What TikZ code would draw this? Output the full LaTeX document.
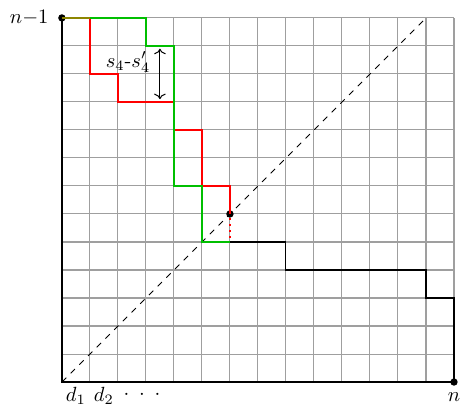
\documentclass[tikz,border=0pt]{standalone}
\usepackage{amsmath, amssymb}
\usetikzlibrary{arrows.meta, positioning}

\begin{document}
\begin{tikzpicture}[x=0.48cm, y=0.48cm,
  grid/.style={gray!75, line width=0.5pt},
  axis/.style={black, line width=0.6pt},
  diag/.style={black, dashed, line width=0.4pt},
  redpath/.style={red, line width=0.9pt},
  greenpath/.style={green!75!black, line width=0.9pt},
  tail/.style={black, line width=0.5pt},
  dot/.style={circle, fill, inner sep=0pt, minimum size=3.6pt}
]
  \useasboundingbox (-2.21,-0.82) rectangle (14.25,13.64);

  \foreach \i in {1,...,14} \draw[grid] (\i,0) -- (\i,13);
  \foreach \j in {1,...,13} \draw[grid] (0,\j) -- (14,\j);
  \draw[axis] (0,13) -- (0,0) -- (14,0);
  \draw[diag] (0,0) -- (13,13);

  \node[dot] (top) at (0,13) {};
  \node[dot] (mid) at (6,6)  {};
  \node[dot] (end) at (14,0) {};
  \coordinate (meet) at (6,5);

  % the two paths, green on top of red
  \draw[redpath] (1,13) -- (1,11) -- (2,11) -- (2,10) -- (4,10) -- (4,9)
    -- (5,9) -- (5,7) -- (6,7) -- (mid.center);
  \draw[redpath, dotted] (mid) -- (meet);
  \draw[greenpath] (1,13) -- (3,13) -- (3,12) -- (4,12) -- (4,7) -- (5,7)
    -- (5,5) -- (meet);
  \draw[olive, line width=0.9pt] (top.center) -- (1,13);
  \draw[tail] (meet) -- (8,5) -- (8,4) -- (13,4) -- (13,3) -- (14,3) -- (end.center);

  % gap between the paths
  \coordinate (gtop) at (3.5,11.9);
  \coordinate (gbot) at (3.5,10.1);
  \draw[<->, line width=0.5pt] (gtop) -- (gbot);
  \node (gap) at (2.36,11.43) {$s_4$-$s'_4$};

  \node[left=1pt of top] (nlab) {$n{-}1$};
  \node[anchor=base] (nb) at (14,-0.71) {$n$};
  \node[anchor=base] (d1) at (0.5,-0.7) {$d_1$};
  \node[anchor=base] (d2) at (1.5,-0.7) {$d_2$};
  \node[anchor=base] (dd) at (2.86,-0.62) {$\cdot\hspace{2.6pt}\cdot\hspace{2.6pt}\cdot$};
\end{tikzpicture}
\end{document}
